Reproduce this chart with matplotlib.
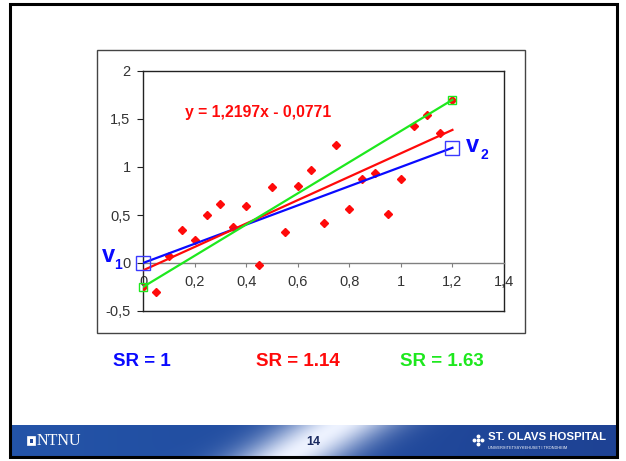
import numpy as np
import matplotlib.pyplot as plt
from matplotlib.patches import Rectangle

plt.rcParams['font.family'] = ['Liberation Sans', 'DejaVu Sans']

x_vals = np.array([0.0, 0.05, 0.10, 0.15, 0.20, 0.25, 0.30, 0.35, 0.40, 0.45,
                   0.50, 0.55, 0.60, 0.65, 0.70, 0.75, 0.80, 0.85, 0.90, 0.95,
                   1.00, 1.05, 1.10, 1.15, 1.20])
y_vals = np.array([-0.25, -0.30, 0.07, 0.34, 0.24, 0.50, 0.61, 0.38, 0.59, -0.02,
                   0.79, 0.32, 0.80, 0.97, 0.42, 1.23, 0.56, 0.87, 0.94, 0.51,
                   0.88, 1.43, 1.54, 1.35, 1.70])

# the three fitted lines: (start x, end x), (start y, end y)
blue_x = [0.0, 1.2]
blue_y = [0.0, 1.2]
red_slope = 1.2197
red_icept = -0.0771
green_x = [0.0, 1.2]
green_y = [-0.25, 1.70]

x_ticks = [0, 0.2, 0.4, 0.6, 0.8, 1.0, 1.2, 1.4]
x_tick_labels = ["0", "0,2", "0,4", "0,6", "0,8", "1", "1,2", "1,4"]
y_ticks = [-0.5, 0, 0.5, 1.0, 1.5, 2.0]
y_tick_labels = ["-0,5", "0", "0,5", "1", "1,5", "2"]

sr_labels = ["SR = 1", "SR = 1.14", "SR = 1.63"]

BLUE = '#0a0aff'
RED = '#ff0a0a'
GREEN = '#1ee81e'

W, H = 626, 461
fig = plt.figure(figsize=(W / 100, H / 100), dpi=100)

# background axes in pixel units for the slide frame and footer
bg = fig.add_axes([0, 0, 1, 1], zorder=0)
bg.set_xlim(0, W)
bg.set_ylim(H, 0)
bg.axis('off')

# footer band with light streak
fx = np.linspace(0, 1, 600)
fy = np.linspace(0, 1, 40)
FX, FY = np.meshgrid(fx, fy)
streak = np.exp(-((FX - 0.5 + 0.08 * FY - 0.04) / 0.09) ** 2)
left_col = np.array([0.14, 0.33, 0.66])
right_col = np.array([0.12, 0.26, 0.58])
base = left_col[None, None, :] * (1 - FX[..., None]) + right_col[None, None, :] * FX[..., None]
img = base * (1 - streak[..., None]) + np.array([0.93, 0.95, 1.0]) * streak[..., None]
bg.imshow(img, extent=[10, 617, 457, 425], aspect='auto', zorder=1)

bg.add_patch(Rectangle((9.5, 4.5), 607, 452, fill=False, lw=2.2, ec='black', zorder=3))
bg.add_patch(Rectangle((97, 50), 428, 283, fill=False, lw=1.0, ec='#444444', zorder=3))

# footer logos
bg.add_patch(Rectangle((27, 436), 8, 9, fc='white', ec='white', lw=0.5, zorder=4))
bg.add_patch(Rectangle((29.5, 438.5), 3, 4, fc='#21489b', ec='none', zorder=5))
bg.text(37, 441, "NTNU", family='Liberation Serif', fontsize=11.5, color='white',
        va='center', ha='left', zorder=4)
bg.text(313, 442, "14", fontsize=9, fontweight='bold', color='#1a2a60',
        va='center', ha='center', zorder=4)
bg.text(488, 437, "ST. OLAVS HOSPITAL", fontsize=8.2, fontweight='bold', color='white',
        va='center', ha='left', zorder=4)
bg.text(488, 447.5, "UNIVERSITETSSYKEHUSET I TRONDHEIM", fontsize=2.8, color='white',
        va='center', ha='left', zorder=4)
for dx, dy in [(0, -4), (-4, 0), (0, 0), (4, 0), (0, 4)]:
    bg.plot(478 + dx, 440 + dy, 'o', ms=1.8, color='white', zorder=4)

# SR labels below the chart
bg.text(113, 361, sr_labels[0], fontsize=13.5, fontweight='bold', color=BLUE, va='center', ha='left')
bg.text(256, 361, sr_labels[1], fontsize=13.5, fontweight='bold', color=RED, va='center', ha='left')
bg.text(400, 361, sr_labels[2], fontsize=13.5, fontweight='bold', color=GREEN, va='center', ha='left')

# v1 label
bg.text(102, 255, "v", fontsize=17, fontweight='bold', color=BLUE, va='center', ha='left')
bg.text(114, 265, "1", fontsize=10, fontweight='bold', color=BLUE, va='center', ha='left')

# main chart
ax = fig.add_axes([143 / W, 1 - 311 / H, 361 / W, 240 / H], zorder=2)
ax.set_facecolor('none')
ax.set_xlim(0, 1.4)
ax.set_ylim(-0.5, 2.0)

for s in ['left', 'top', 'right']:
    ax.spines[s].set_color('#222222')
    ax.spines[s].set_linewidth(1.0)
ax.spines['bottom'].set_position(('data', 0))
ax.spines['bottom'].set_color('#808080')
ax.spines['bottom'].set_linewidth(1.0)
ax.axhline(-0.5, color='#222222', lw=1.0, clip_on=False)

ax.set_xticks(x_ticks)
ax.set_xticklabels(x_tick_labels)
ax.set_yticks(y_ticks)
ax.set_yticklabels(y_tick_labels)
ax.tick_params(axis='x', direction='out', length=3, pad=6, labelsize=10.5,
               colors='#808080', labelcolor='#333333')
ax.tick_params(axis='y', direction='out', length=4, pad=5, labelsize=10.5,
               colors='#222222', labelcolor='#333333')

ax.plot(x_vals, y_vals, 'D', color=RED, ms=3.8, mec=RED, zorder=3)

ax.plot(blue_x, blue_y, color=BLUE, lw=1.6, zorder=4)
fit_x = np.array([0.0, 1.2])
ax.plot(fit_x, red_slope * fit_x + red_icept, color=RED, lw=1.6, zorder=4)
ax.plot(green_x, green_y, color=GREEN, lw=1.6, zorder=4)

ax.plot(blue_x, blue_y, 's', ms=10, mfc='none', mec='#3a3aff', mew=1.0, zorder=5, clip_on=False)
ax.plot(green_x, green_y, 's', ms=6, mfc='none', mec=GREEN, mew=1.0, zorder=5, clip_on=False)

ax.text(0.163, 1.57, "y = 1,2197x - 0,0771", fontsize=11.3, fontweight='bold', color=RED,
        va='center', ha='left')

# v2 label
ax.text(1.252, 1.22, "v", fontsize=17, fontweight='bold', color=BLUE, va='center', ha='left')
ax.text(1.31, 1.12, "2", fontsize=10, fontweight='bold', color=BLUE, va='center', ha='left')

fig.savefig('out.png', dpi=100)
